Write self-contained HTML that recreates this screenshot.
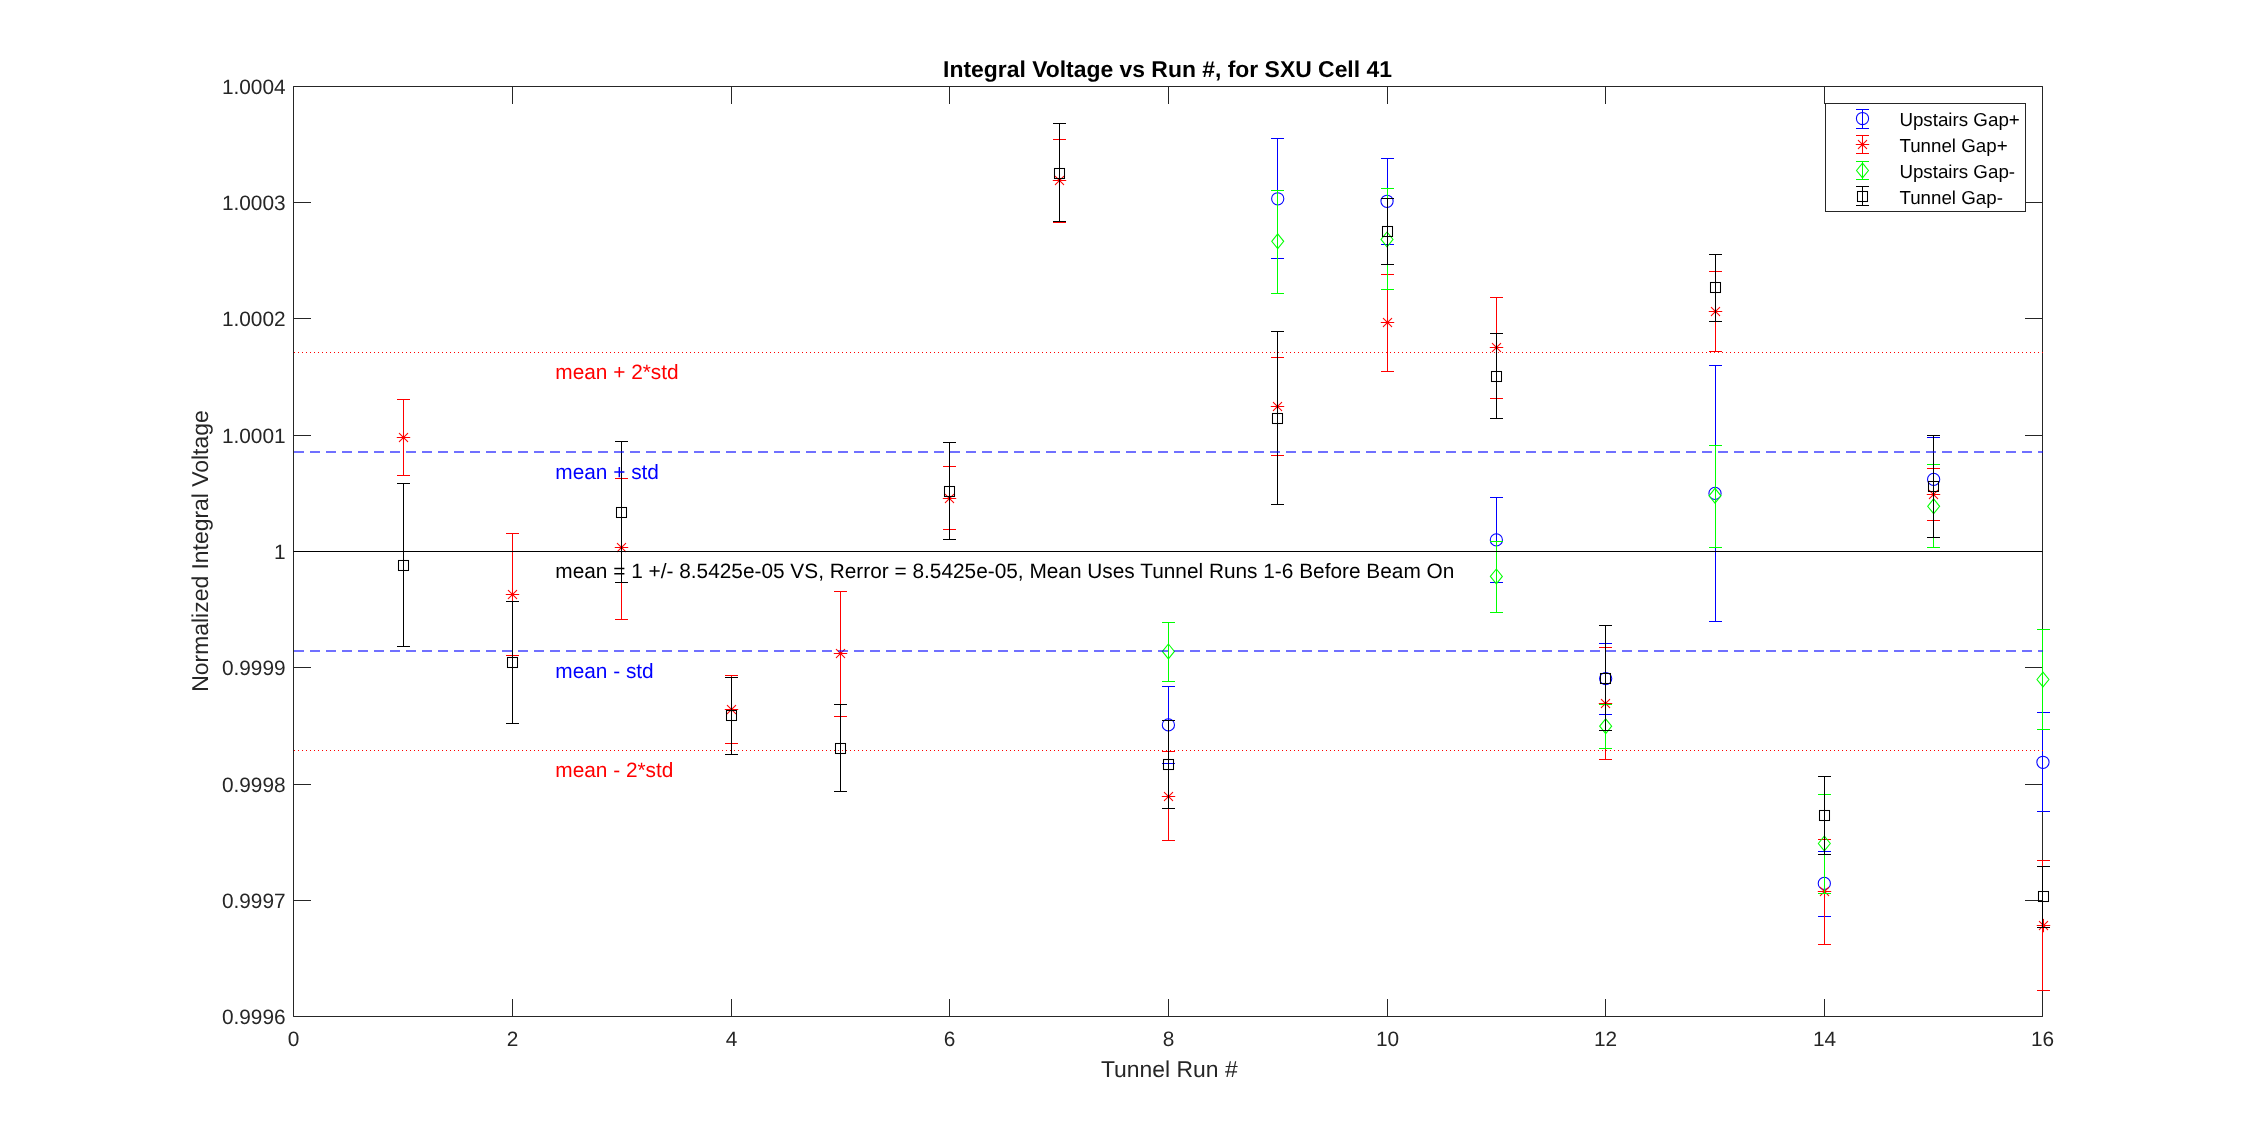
<!DOCTYPE html><html><head><meta charset="utf-8"><style>svg{will-change:transform}svg text{text-rendering:geometricPrecision}html,body{margin:0;padding:0;background:#fff;width:2258px;height:1143px;overflow:hidden}</style></head><body>
<svg width="2258" height="1143" viewBox="0 0 2258 1143" style="position:absolute;left:0;top:0">
<rect width="2258" height="1143" fill="#fff"/>
<path d="M293.5,86.5H2042.5V1016.5H293.5ZM293.5,1016.5V999.0M293.5,86.5V104.0M512.5,1016.5V999.0M512.5,86.5V104.0M731.5,1016.5V999.0M731.5,86.5V104.0M949.5,1016.5V999.0M949.5,86.5V104.0M1168.5,1016.5V999.0M1168.5,86.5V104.0M1387.5,1016.5V999.0M1387.5,86.5V104.0M1605.5,1016.5V999.0M1605.5,86.5V104.0M1824.5,1016.5V999.0M1824.5,86.5V104.0M2042.5,1016.5V999.0M2042.5,86.5V104.0M293.5,86.5H311.0M2042.5,86.5H2025.0M293.5,202.5H311.0M2042.5,202.5H2025.0M293.5,318.5H311.0M2042.5,318.5H2025.0M293.5,435.5H311.0M2042.5,435.5H2025.0M293.5,551.5H311.0M2042.5,551.5H2025.0M293.5,667.5H311.0M2042.5,667.5H2025.0M293.5,784.5H311.0M2042.5,784.5H2025.0M293.5,900.5H311.0M2042.5,900.5H2025.0M293.5,1016.5H311.0M2042.5,1016.5H2025.0" fill="none" stroke="#262626" stroke-width="1"/>
<g font-family='"Liberation Sans", sans-serif' font-size="20.83" fill="#262626"><text x="293.5" y="1046" text-anchor="middle">0</text><text x="512.5" y="1046" text-anchor="middle">2</text><text x="731.5" y="1046" text-anchor="middle">4</text><text x="949.5" y="1046" text-anchor="middle">6</text><text x="1168.5" y="1046" text-anchor="middle">8</text><text x="1387.5" y="1046" text-anchor="middle">10</text><text x="1605.5" y="1046" text-anchor="middle">12</text><text x="1824.5" y="1046" text-anchor="middle">14</text><text x="2042.5" y="1046" text-anchor="middle">16</text><text x="285.6" y="93.9" text-anchor="end">1.0004</text><text x="285.6" y="209.9" text-anchor="end">1.0003</text><text x="285.6" y="325.9" text-anchor="end">1.0002</text><text x="285.6" y="442.9" text-anchor="end">1.0001</text><text x="285.6" y="558.9" text-anchor="end">1</text><text x="285.6" y="674.9" text-anchor="end">0.9999</text><text x="285.6" y="791.9" text-anchor="end">0.9998</text><text x="285.6" y="907.9" text-anchor="end">0.9997</text><text x="285.6" y="1023.9" text-anchor="end">0.9996</text></g>
<text x="1167.5" y="77.3" text-anchor="middle" font-family='"Liberation Sans", sans-serif' font-size="22.92" font-weight="bold" fill="#000">Integral Voltage vs Run #, for SXU Cell 41</text>
<text x="1169.3" y="1077" text-anchor="middle" font-family='"Liberation Sans", sans-serif' font-size="22.92" fill="#262626">Tunnel Run #</text>
<text transform="translate(207.8,551) rotate(-90)" x="0" y="0" text-anchor="middle" font-family='"Liberation Sans", sans-serif' font-size="22.92" fill="#262626">Normalized Integral Voltage</text>
<path d="M1168.5,686.5V763.5M1162.0,686.5H1175.0M1162.0,763.5H1175.0M1277.5,138.5V258.5M1271.0,138.5H1284.0M1271.0,258.5H1284.0M1387.5,158.5V244.5M1381.0,158.5H1394.0M1381.0,244.5H1394.0M1496.5,497.5V582.5M1490.0,497.5H1503.0M1490.0,582.5H1503.0M1605.5,643.5V714.5M1599.0,643.5H1612.0M1599.0,714.5H1612.0M1715.5,365.5V621.5M1709.0,365.5H1722.0M1709.0,621.5H1722.0M1824.5,851.5V916.5M1818.0,851.5H1831.0M1818.0,916.5H1831.0M1933.5,437.5V520.5M1927.0,437.5H1940.0M1927.0,520.5H1940.0M2042.5,712.5V811.5M2037.0,712.5H2050.0M2037.0,811.5H2050.0" fill="none" stroke="#0000ff" stroke-width="1"/>
<circle cx="1168.4" cy="724.9" r="6.1" fill="none" stroke="#0000ff" stroke-width="1.05"/>
<circle cx="1277.72" cy="198.8" r="6.1" fill="none" stroke="#0000ff" stroke-width="1.05"/>
<circle cx="1387.04" cy="201.3" r="6.1" fill="none" stroke="#0000ff" stroke-width="1.05"/>
<circle cx="1496.36" cy="539.9" r="6.1" fill="none" stroke="#0000ff" stroke-width="1.05"/>
<circle cx="1605.68" cy="678.6" r="6.1" fill="none" stroke="#0000ff" stroke-width="1.05"/>
<circle cx="1715.0" cy="493.4" r="6.1" fill="none" stroke="#0000ff" stroke-width="1.05"/>
<circle cx="1824.32" cy="883.4" r="6.1" fill="none" stroke="#0000ff" stroke-width="1.05"/>
<circle cx="1933.64" cy="479.4" r="6.1" fill="none" stroke="#0000ff" stroke-width="1.05"/>
<circle cx="2042.96" cy="762.3" r="6.1" fill="none" stroke="#0000ff" stroke-width="1.05"/>
<path d="M403.5,399.5V475.5M397.0,399.5H410.0M397.0,475.5H410.0M512.5,533.5V655.5M506.0,533.5H519.0M506.0,655.5H519.0M621.5,478.5V619.5M615.0,478.5H628.0M615.0,619.5H628.0M731.5,675.5V743.5M725.0,675.5H738.0M725.0,743.5H738.0M840.5,591.5V716.5M834.0,591.5H847.0M834.0,716.5H847.0M949.5,466.5V529.5M943.0,466.5H956.0M943.0,529.5H956.0M1059.5,139.5V222.5M1053.0,139.5H1066.0M1053.0,222.5H1066.0M1168.5,751.5V840.5M1162.0,751.5H1175.0M1162.0,840.5H1175.0M1277.5,357.5V455.5M1271.0,357.5H1284.0M1271.0,455.5H1284.0M1387.5,274.5V371.5M1381.0,274.5H1394.0M1381.0,371.5H1394.0M1496.5,297.5V398.5M1490.0,297.5H1503.0M1490.0,398.5H1503.0M1605.5,647.5V759.5M1599.0,647.5H1612.0M1599.0,759.5H1612.0M1715.5,271.5V351.5M1709.0,271.5H1722.0M1709.0,351.5H1722.0M1824.5,839.5V944.5M1818.0,839.5H1831.0M1818.0,944.5H1831.0M1933.5,468.5V520.5M1927.0,468.5H1940.0M1927.0,520.5H1940.0M2042.5,860.5V990.5M2037.0,860.5H2050.0M2037.0,990.5H2050.0" fill="none" stroke="#ff0000" stroke-width="1"/>
<path d="M397.2,437.5 H409.8 M403.5,431.2 V443.8 M399.3,433.3 L407.7,441.7 M399.3,441.7 L407.7,433.3" fill="none" stroke="#ff0000" stroke-width="1.05" stroke-linecap="round"/>
<path d="M506.2,594.5 H518.8 M512.5,588.2 V600.8 M508.3,590.3 L516.7,598.7 M508.3,598.7 L516.7,590.3" fill="none" stroke="#ff0000" stroke-width="1.05" stroke-linecap="round"/>
<path d="M615.2,547.5 H627.8 M621.5,541.2 V553.8 M617.3,543.3 L625.7,551.7 M617.3,551.7 L625.7,543.3" fill="none" stroke="#ff0000" stroke-width="1.05" stroke-linecap="round"/>
<path d="M725.2,709.5 H737.8 M731.5,703.2 V715.8 M727.3,705.3 L735.7,713.7 M727.3,713.7 L735.7,705.3" fill="none" stroke="#ff0000" stroke-width="1.05" stroke-linecap="round"/>
<path d="M834.2,653.5 H846.8 M840.5,647.2 V659.8 M836.3,649.3 L844.7,657.7 M836.3,657.7 L844.7,649.3" fill="none" stroke="#ff0000" stroke-width="1.05" stroke-linecap="round"/>
<path d="M943.2,498.5 H955.8 M949.5,492.2 V504.8 M945.3,494.3 L953.7,502.7 M945.3,502.7 L953.7,494.3" fill="none" stroke="#ff0000" stroke-width="1.05" stroke-linecap="round"/>
<path d="M1053.2,180.5 H1065.8 M1059.5,174.2 V186.8 M1055.3,176.3 L1063.7,184.7 M1055.3,184.7 L1063.7,176.3" fill="none" stroke="#ff0000" stroke-width="1.05" stroke-linecap="round"/>
<path d="M1162.2,796.5 H1174.8 M1168.5,790.2 V802.8 M1164.3,792.3 L1172.7,800.7 M1164.3,800.7 L1172.7,792.3" fill="none" stroke="#ff0000" stroke-width="1.05" stroke-linecap="round"/>
<path d="M1271.2,406.5 H1283.8 M1277.5,400.2 V412.8 M1273.3,402.3 L1281.7,410.7 M1273.3,410.7 L1281.7,402.3" fill="none" stroke="#ff0000" stroke-width="1.05" stroke-linecap="round"/>
<path d="M1381.2,322.5 H1393.8 M1387.5,316.2 V328.8 M1383.3,318.3 L1391.7,326.7 M1383.3,326.7 L1391.7,318.3" fill="none" stroke="#ff0000" stroke-width="1.05" stroke-linecap="round"/>
<path d="M1490.2,347.5 H1502.8 M1496.5,341.2 V353.8 M1492.3,343.3 L1500.7,351.7 M1492.3,351.7 L1500.7,343.3" fill="none" stroke="#ff0000" stroke-width="1.05" stroke-linecap="round"/>
<path d="M1599.2,703.5 H1611.8 M1605.5,697.2 V709.8 M1601.3,699.3 L1609.7,707.7 M1601.3,707.7 L1609.7,699.3" fill="none" stroke="#ff0000" stroke-width="1.05" stroke-linecap="round"/>
<path d="M1709.2,311.5 H1721.8 M1715.5,305.2 V317.8 M1711.3,307.3 L1719.7,315.7 M1711.3,315.7 L1719.7,307.3" fill="none" stroke="#ff0000" stroke-width="1.05" stroke-linecap="round"/>
<path d="M1818.2,891.5 H1830.8 M1824.5,885.2 V897.8 M1820.3,887.3 L1828.7,895.7 M1820.3,895.7 L1828.7,887.3" fill="none" stroke="#ff0000" stroke-width="1.05" stroke-linecap="round"/>
<path d="M1927.2,494.5 H1939.8 M1933.5,488.2 V500.8 M1929.3,490.3 L1937.7,498.7 M1929.3,498.7 L1937.7,490.3" fill="none" stroke="#ff0000" stroke-width="1.05" stroke-linecap="round"/>
<path d="M2037.2,925.5 H2049.8 M2043.5,919.2 V931.8 M2039.3,921.3 L2047.7,929.7 M2039.3,929.7 L2047.7,921.3" fill="none" stroke="#ff0000" stroke-width="1.05" stroke-linecap="round"/>
<path d="M1168.5,622.5V681.5M1162.0,622.5H1175.0M1162.0,681.5H1175.0M1277.5,190.5V293.5M1271.0,190.5H1284.0M1271.0,293.5H1284.0M1387.5,188.5V289.5M1381.0,188.5H1394.0M1381.0,289.5H1394.0M1496.5,541.5V612.5M1490.0,541.5H1503.0M1490.0,612.5H1503.0M1605.5,704.5V748.5M1599.0,704.5H1612.0M1599.0,748.5H1612.0M1715.5,445.5V547.5M1709.0,445.5H1722.0M1709.0,547.5H1722.0M1824.5,794.5V893.5M1818.0,794.5H1831.0M1818.0,893.5H1831.0M1933.5,464.5V547.5M1927.0,464.5H1940.0M1927.0,547.5H1940.0M2042.5,629.5V729.5M2037.0,629.5H2050.0M2037.0,729.5H2050.0" fill="none" stroke="#00ff00" stroke-width="1"/>
<path d="M1162.4,651.4 L1168.4,644.0 L1174.4,651.4 L1168.4,658.8 Z" fill="none" stroke="#00ff00" stroke-width="1.05"/>
<path d="M1271.72,241.3 L1277.72,233.9 L1283.72,241.3 L1277.72,248.70000000000002 Z" fill="none" stroke="#00ff00" stroke-width="1.05"/>
<path d="M1381.04,239.4 L1387.04,232.0 L1393.04,239.4 L1387.04,246.8 Z" fill="none" stroke="#00ff00" stroke-width="1.05"/>
<path d="M1490.36,576.4 L1496.36,569.0 L1502.36,576.4 L1496.36,583.8 Z" fill="none" stroke="#00ff00" stroke-width="1.05"/>
<path d="M1599.68,726.2 L1605.68,718.8000000000001 L1611.68,726.2 L1605.68,733.6 Z" fill="none" stroke="#00ff00" stroke-width="1.05"/>
<path d="M1709.0,495.8 L1715.0,488.40000000000003 L1721.0,495.8 L1715.0,503.2 Z" fill="none" stroke="#00ff00" stroke-width="1.05"/>
<path d="M1818.32,843.5 L1824.32,836.1 L1830.32,843.5 L1824.32,850.9 Z" fill="none" stroke="#00ff00" stroke-width="1.05"/>
<path d="M1927.64,506.3 L1933.64,498.90000000000003 L1939.64,506.3 L1933.64,513.7 Z" fill="none" stroke="#00ff00" stroke-width="1.05"/>
<path d="M2036.96,679.5 L2042.96,672.1 L2048.96,679.5 L2042.96,686.9 Z" fill="none" stroke="#00ff00" stroke-width="1.05"/>
<path d="M403.5,483.5V646.5M397.0,483.5H410.0M397.0,646.5H410.0M512.5,601.5V723.5M506.0,601.5H519.0M506.0,723.5H519.0M621.5,441.5V582.5M615.0,441.5H628.0M615.0,582.5H628.0M731.5,677.5V754.5M725.0,677.5H738.0M725.0,754.5H738.0M840.5,704.5V791.5M834.0,704.5H847.0M834.0,791.5H847.0M949.5,442.5V539.5M943.0,442.5H956.0M943.0,539.5H956.0M1059.5,123.5V221.5M1053.0,123.5H1066.0M1053.0,221.5H1066.0M1168.5,720.5V808.5M1162.0,720.5H1175.0M1162.0,808.5H1175.0M1277.5,331.5V504.5M1271.0,331.5H1284.0M1271.0,504.5H1284.0M1387.5,198.5V264.5M1381.0,198.5H1394.0M1381.0,264.5H1394.0M1496.5,333.5V418.5M1490.0,333.5H1503.0M1490.0,418.5H1503.0M1605.5,625.5V730.5M1599.0,625.5H1612.0M1599.0,730.5H1612.0M1715.5,254.5V321.5M1709.0,254.5H1722.0M1709.0,321.5H1722.0M1824.5,776.5V854.5M1818.0,776.5H1831.0M1818.0,854.5H1831.0M1933.5,435.5V537.5M1927.0,435.5H1940.0M1927.0,537.5H1940.0M2042.5,866.5V927.5M2037.0,866.5H2050.0M2037.0,927.5H2050.0" fill="none" stroke="#000000" stroke-width="1"/>
<rect x="398.5" y="560.5" width="10" height="10" fill="none" stroke="#000000" stroke-width="1.05"/>
<rect x="507.5" y="657.5" width="10" height="10" fill="none" stroke="#000000" stroke-width="1.05"/>
<rect x="616.5" y="507.5" width="10" height="10" fill="none" stroke="#000000" stroke-width="1.05"/>
<rect x="726.5" y="710.5" width="10" height="10" fill="none" stroke="#000000" stroke-width="1.05"/>
<rect x="835.5" y="743.5" width="10" height="10" fill="none" stroke="#000000" stroke-width="1.05"/>
<rect x="944.5" y="486.5" width="10" height="10" fill="none" stroke="#000000" stroke-width="1.05"/>
<rect x="1054.5" y="168.5" width="10" height="10" fill="none" stroke="#000000" stroke-width="1.05"/>
<rect x="1163.5" y="759.5" width="10" height="10" fill="none" stroke="#000000" stroke-width="1.05"/>
<rect x="1272.5" y="413.5" width="10" height="10" fill="none" stroke="#000000" stroke-width="1.05"/>
<rect x="1382.5" y="226.5" width="10" height="10" fill="none" stroke="#000000" stroke-width="1.05"/>
<rect x="1491.5" y="371.5" width="10" height="10" fill="none" stroke="#000000" stroke-width="1.05"/>
<rect x="1600.5" y="673.5" width="10" height="10" fill="none" stroke="#000000" stroke-width="1.05"/>
<rect x="1710.5" y="282.5" width="10" height="10" fill="none" stroke="#000000" stroke-width="1.05"/>
<rect x="1819.5" y="810.5" width="10" height="10" fill="none" stroke="#000000" stroke-width="1.05"/>
<rect x="1928.5" y="481.5" width="10" height="10" fill="none" stroke="#000000" stroke-width="1.05"/>
<rect x="2038.5" y="891.5" width="10" height="10" fill="none" stroke="#000000" stroke-width="1.05"/>
<path d="M293.5,551.5H2042.5" stroke="#000" stroke-width="1"/>
<path d="M294,452H2043M294,651H2043" stroke="#0000ff" stroke-opacity="0.56" stroke-width="2" stroke-dasharray="10 6"/>
<path d="M294,352.5H2043M294,750.5H2043" stroke="#ff0000" stroke-width="1" stroke-dasharray="1 3"/>
<g font-family='"Liberation Sans", sans-serif' font-size="20.83"><text x="555.3" y="378.9" fill="#ff0000">mean + 2*std</text><text x="555.3" y="478.6" fill="#0000ff">mean + std</text><text x="555.3" y="577.6" fill="#000">mean = 1 +/- 8.5425e-05 VS, Rerror = 8.5425e-05, Mean Uses Tunnel Runs 1-6 Before Beam On</text><text x="555.3" y="678.1" fill="#0000ff">mean - std</text><text x="555.3" y="776.7" fill="#ff0000">mean - 2*std</text></g>
<rect x="1825.5" y="103.5" width="200.0" height="108.0" fill="#fff" stroke="#262626" stroke-width="1"/>
<path d="M1862.5,109.5V128.5M1856.0,109.5H1869.0M1856.0,128.5H1869.0" fill="none" stroke="#0000ff" stroke-width="1"/>
<circle cx="1862.5" cy="118.5" r="6.1" fill="none" stroke="#0000ff" stroke-width="1.05"/>
<text x="1899.4" y="125.9" font-family='"Liberation Sans", sans-serif' font-size="18.75" fill="#000">Upstairs Gap+</text>
<path d="M1862.5,135.5V153.5M1856.0,135.5H1869.0M1856.0,153.5H1869.0" fill="none" stroke="#ff0000" stroke-width="1"/>
<path d="M1856.2,144.5 H1868.8 M1862.5,138.2 V150.8 M1858.3,140.3 L1866.7,148.7 M1858.3,148.7 L1866.7,140.3" fill="none" stroke="#ff0000" stroke-width="1.05" stroke-linecap="round"/>
<text x="1899.4" y="151.9" font-family='"Liberation Sans", sans-serif' font-size="18.75" fill="#000">Tunnel Gap+</text>
<path d="M1862.5,161.5V179.5M1856.0,161.5H1869.0M1856.0,179.5H1869.0" fill="none" stroke="#00ff00" stroke-width="1"/>
<path d="M1856.5,170.5 L1862.5,163.1 L1868.5,170.5 L1862.5,177.9 Z" fill="none" stroke="#00ff00" stroke-width="1.05"/>
<text x="1899.4" y="177.9" font-family='"Liberation Sans", sans-serif' font-size="18.75" fill="#000">Upstairs Gap-</text>
<path d="M1862.5,186.5V205.5M1856.0,186.5H1869.0M1856.0,205.5H1869.0" fill="none" stroke="#000000" stroke-width="1"/>
<rect x="1857.5" y="191.5" width="10" height="10" fill="none" stroke="#000000" stroke-width="1.05"/>
<text x="1899.4" y="203.9" font-family='"Liberation Sans", sans-serif' font-size="18.75" fill="#000">Tunnel Gap-</text>
</svg>
</body></html>
